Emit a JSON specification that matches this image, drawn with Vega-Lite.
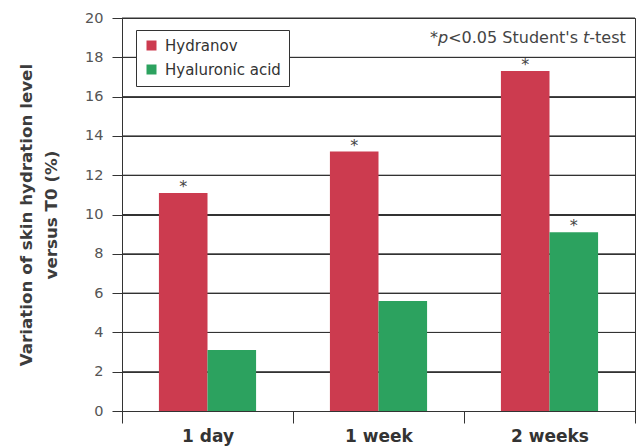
{
  "$schema": "https://vega.github.io/schema/vega-lite/v6.json",
  "width": 513,
  "height": 393,
  "autosize": "none",
  "padding": {"left": 122, "top": 18, "right": 7, "bottom": 36},
  "background": "white",
  "config": {
    "view": {"stroke": "#333", "strokeWidth": 1},
    "font": "DejaVu Sans",
    "axisX": {
      "labelAngle": 0, "labelFontSize": 17, "labelFontWeight": "bold",
      "labelColor": "#333", "tickBand": "extent", "tickSize": 12, "tickColor": "#333",
      "labelPadding": 5, "domainColor": "#333", "grid": false
    },
    "axisY": {
      "titleFontSize": 16.7, "titleFontWeight": "bold", "titleColor": "#3c3c3c",
      "titleLineHeight": 25, "titlePadding": 24,
      "labelFontSize": 14.5, "labelColor": "#555", "labelPadding": 9,
      "tickSize": 10, "tickColor": "#333", "domainColor": "#333",
      "gridColor": "#333", "gridOpacity": 1, "grid": true
    },
    "legend": {
      "orient": "none",
      "legendX": 14,
      "legendY": 12,
      "strokeColor": "#333",
      "fillColor": "white",
      "padding": 8,
      "labelFontSize": 15,
      "labelColor": "#333",
      "labelOffset": 6,
      "symbolType": "square",
      "symbolSize": 100,
      "symbolStrokeWidth": 0,
      "rowPadding": 8,
      "title": null
    }
  },
  "data": {
    "values": [
      {"cat": "1 day", "series": "Hydranov", "value": 11.1, "sig": "*"},
      {"cat": "1 day", "series": "Hyaluronic acid", "value": 3.1, "sig": ""},
      {"cat": "1 week", "series": "Hydranov", "value": 13.2, "sig": "*"},
      {"cat": "1 week", "series": "Hyaluronic acid", "value": 5.6, "sig": ""},
      {"cat": "2 weeks", "series": "Hydranov", "value": 17.3, "sig": "*"},
      {"cat": "2 weeks", "series": "Hyaluronic acid", "value": 9.1, "sig": "*"}
    ]
  },
  "encoding": {
    "y": {
      "field": "value", "type": "quantitative",
      "scale": {"domain": [0, 20]},
      "axis": {
        "title": ["Variation of skin hydration level", "versus T0 (%)"],
        "values": [0, 2, 4, 6, 8, 10, 12, 14, 16, 18, 20],
        "labelOverlap": false
      }
    }
  },
  "layer": [
    {
      "data": {"values": [{"value": 2}, {"value": 4}, {"value": 6}, {"value": 8}, {"value": 10}, {"value": 12}, {"value": 14}, {"value": 16}, {"value": 18}, {"value": 20}]},
      "mark": {"type": "rule", "color": "#333", "strokeWidth": 1},
      "encoding": {
        "y": {"field": "value", "type": "quantitative"}
      }
    },
    {
      "mark": {"type": "bar"},
      "encoding": {
        "x": {
          "field": "cat", "type": "nominal", "sort": ["1 day", "1 week", "2 weeks"],
          "scale": {"paddingInner": 0, "paddingOuter": 0},
          "axis": {"title": null}
        },
        "xOffset": {
          "field": "series", "type": "nominal", "sort": ["Hydranov", "Hyaluronic acid"],
          "scale": {"paddingInner": 0, "paddingOuter": 0.76}
        },
        "color": {
          "field": "series", "type": "nominal", "sort": ["Hydranov", "Hyaluronic acid"],
          "scale": {"domain": ["Hydranov", "Hyaluronic acid"], "range": ["#cc3b4f", "#2ca25f"]}
        }
      }
    },
    {
      "mark": {"type": "text", "baseline": "bottom", "dy": 2, "fontSize": 16, "color": "#444"},
      "encoding": {
        "x": {"field": "cat", "type": "nominal", "sort": ["1 day", "1 week", "2 weeks"], "axis": {"title": null}},
        "xOffset": {"field": "series", "type": "nominal", "sort": ["Hydranov", "Hyaluronic acid"]},
        "text": {"field": "sig"}
      }
    },
    {
      "data": {"values": [{"cat": "2 weeks", "value": 19, "part": "*"}]},
      "mark": {"type": "text", "align": "left", "baseline": "middle", "dx": -34, "fontSize": 16, "color": "#444"},
      "encoding": {
        "x": {"field": "cat", "type": "nominal", "bandPosition": 0, "sort": ["1 day", "1 week", "2 weeks"], "axis": {"title": null}},
        "text": {"field": "part"}
      }
    },
    {
      "data": {"values": [{"cat": "2 weeks", "value": 19, "part": "p"}]},
      "mark": {"type": "text", "align": "left", "baseline": "middle", "dx": -26, "fontSize": 16, "fontStyle": "italic", "color": "#444"},
      "encoding": {
        "x": {"field": "cat", "type": "nominal", "bandPosition": 0, "sort": ["1 day", "1 week", "2 weeks"], "axis": {"title": null}},
        "text": {"field": "part"}
      }
    },
    {
      "data": {"values": [{"cat": "2 weeks", "value": 19, "part": "<0.05 Student's"}]},
      "mark": {"type": "text", "align": "left", "baseline": "middle", "dx": -15.8, "fontSize": 16, "color": "#444"},
      "encoding": {
        "x": {"field": "cat", "type": "nominal", "bandPosition": 0, "sort": ["1 day", "1 week", "2 weeks"], "axis": {"title": null}},
        "text": {"field": "part"}
      }
    },
    {
      "data": {"values": [{"cat": "2 weeks", "value": 19, "part": "t"}]},
      "mark": {"type": "text", "align": "left", "baseline": "middle", "dx": 119, "fontSize": 16, "fontStyle": "italic", "color": "#444"},
      "encoding": {
        "x": {"field": "cat", "type": "nominal", "bandPosition": 0, "sort": ["1 day", "1 week", "2 weeks"], "axis": {"title": null}},
        "text": {"field": "part"}
      }
    },
    {
      "data": {"values": [{"cat": "2 weeks", "value": 19, "part": "-test"}]},
      "mark": {"type": "text", "align": "left", "baseline": "middle", "dx": 125.3, "fontSize": 16, "color": "#444"},
      "encoding": {
        "x": {"field": "cat", "type": "nominal", "bandPosition": 0, "sort": ["1 day", "1 week", "2 weeks"], "axis": {"title": null}},
        "text": {"field": "part"}
      }
    }
  ]
}
